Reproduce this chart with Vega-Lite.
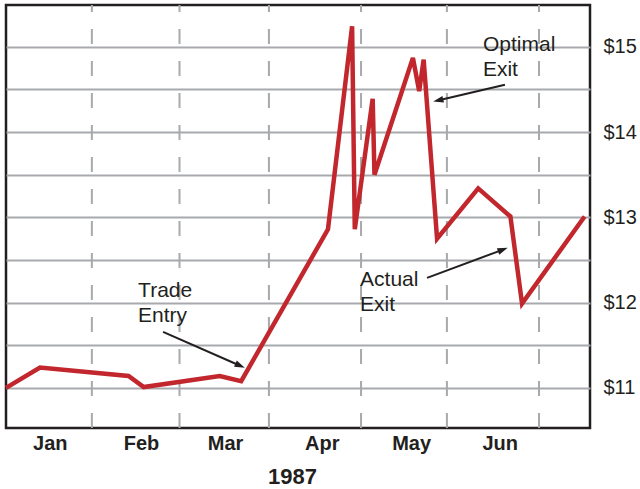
{
  "$schema": "https://vega.github.io/schema/vega-lite/v6.json",
  "width": 584,
  "height": 423,
  "autosize": "none",
  "padding": {"left": 6, "top": 5, "right": 50, "bottom": 61},
  "background": "white",
  "config": {
    "font": "Liberation Sans",
    "view": {"stroke": "#231f20", "strokeWidth": 2.5}
  },
  "datasets": {
    "price": [
      {"t": 0.05, "close": 11.0},
      {"t": 0.43, "close": 11.24},
      {"t": 1.42, "close": 11.14},
      {"t": 1.59, "close": 11.01},
      {"t": 2.44, "close": 11.14},
      {"t": 2.68, "close": 11.08},
      {"t": 3.65, "close": 12.86},
      {"t": 3.92, "close": 15.24},
      {"t": 3.95, "close": 12.86},
      {"t": 4.15, "close": 14.39},
      {"t": 4.17, "close": 13.5},
      {"t": 4.6, "close": 14.87},
      {"t": 4.67, "close": 14.48},
      {"t": 4.72, "close": 14.85},
      {"t": 4.87, "close": 12.75},
      {"t": 5.33, "close": 13.34},
      {"t": 5.69, "close": 13.01},
      {"t": 5.82, "close": 11.99},
      {"t": 6.52, "close": 13.01}
    ],
    "monthEnds": [
      {"t": 1.01},
      {"t": 1.99},
      {"t": 2.99},
      {"t": 4.02},
      {"t": 4.98},
      {"t": 6.01}
    ],
    "arrows": [
      {"name": "entry", "t0": 1.806, "p0": 11.657, "t1": 2.662, "p1": 11.263, "heading": 113.7},
      {"name": "optimal", "t0": 5.629, "p0": 14.556, "t1": 4.889, "p1": 14.373, "heading": 256.7},
      {"name": "actual", "t0": 4.758, "p0": 12.291, "t1": 5.6, "p1": 12.619, "heading": 69.7}
    ],
    "notes": [
      {"text": "Trade", "t": 1.527, "p": 12.138},
      {"text": "Entry", "t": 1.527, "p": 11.845},
      {"text": "Optimal", "t": 5.383, "p": 15.026},
      {"text": "Exit", "t": 5.383, "p": 14.73},
      {"text": "Actual", "t": 4.009, "p": 12.268},
      {"text": "Exit", "t": 4.009, "p": 11.974}
    ]
  },
  "layer": [
    {
      "data": {"name": "monthEnds"},
      "mark": {"type": "rule", "color": "#a7a9ac", "strokeWidth": 2, "strokeDash": [15, 17]},
      "encoding": {
        "x": {"field": "t", "type": "quantitative"},
        "y": {"datum": 10.53, "type": "quantitative"},
        "y2": {"datum": 15.49}
      }
    },
    {
      "data": {"name": "price"},
      "mark": {"type": "line", "color": "#c1272d", "strokeWidth": 4.5, "strokeJoin": "miter"},
      "encoding": {
        "x": {
          "field": "t",
          "type": "quantitative",
          "scale": {"domain": [0.05, 6.58], "nice": false, "zero": false},
          "axis": {
            "values": [0.54, 1.56, 2.5, 3.58, 4.58, 5.57],
            "labelExpr": "['Jan','Feb','Mar','Apr','May','Jun'][floor(datum.value)]",
            "grid": false,
            "ticks": false,
            "domain": false,
            "labelFontSize": 20,
            "labelFontWeight": "bold",
            "labelColor": "#231f20",
            "labelPadding": 5,
            "title": "1987",
            "titleFontSize": 22,
            "titleFontWeight": "bold",
            "titleColor": "#231f20",
            "titlePadding": 13,
            "titleX": 286
          }
        },
        "y": {
          "field": "close",
          "type": "quantitative",
          "scale": {"domain": [10.53, 15.49], "nice": false, "zero": false},
          "axis": {
            "orient": "right",
            "values": [11, 11.5, 12, 12.5, 13, 13.5, 14, 14.5, 15],
            "labelExpr": "datum.value % 1 === 0 ? '$' + datum.value : ''",
            "grid": true,
            "gridColor": "#a7a9ac",
            "gridWidth": 2,
            "gridOpacity": 1,
            "ticks": false,
            "domain": false,
            "labelFontSize": 20,
            "labelColor": "#231f20",
            "labelPadding": 13,
            "title": null
          }
        }
      }
    },
    {
      "data": {"name": "arrows"},
      "mark": {"type": "rule", "color": "#231f20", "strokeWidth": 2},
      "encoding": {
        "x": {"field": "t0", "type": "quantitative"},
        "y": {"field": "p0", "type": "quantitative"},
        "x2": {"field": "t1"},
        "y2": {"field": "p1"}
      }
    },
    {
      "data": {"name": "arrows"},
      "mark": {
        "type": "point",
        "shape": "M0,-1L0.6,0.8L-0.6,0.8Z",
        "filled": true,
        "color": "#231f20",
        "opacity": 1,
        "size": 130
      },
      "encoding": {
        "x": {"field": "t1", "type": "quantitative"},
        "y": {"field": "p1", "type": "quantitative"},
        "angle": {"field": "heading", "type": "quantitative", "scale": null}
      }
    },
    {
      "data": {"name": "notes"},
      "mark": {"type": "text", "align": "left", "baseline": "middle", "fontSize": 21, "color": "#231f20"},
      "encoding": {
        "x": {"field": "t", "type": "quantitative"},
        "y": {"field": "p", "type": "quantitative"},
        "text": {"field": "text"}
      }
    }
  ]
}
